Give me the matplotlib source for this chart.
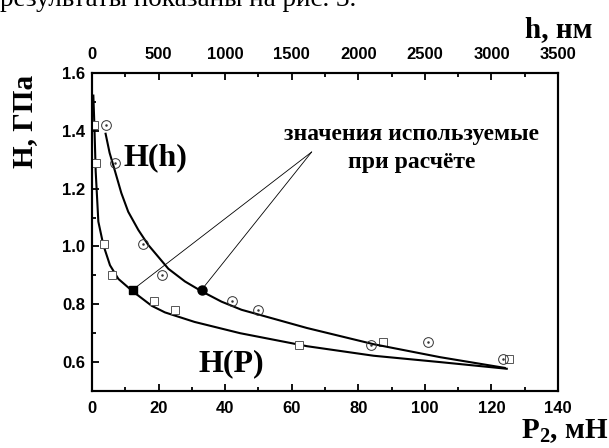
import numpy as np
import matplotlib
matplotlib.use('Agg')
import matplotlib.pyplot as plt
from matplotlib.ticker import MultipleLocator

plt.rcParams['font.family'] = ['Liberation Sans', 'DejaVu Sans']
plt.rcParams['mathtext.fontset'] = 'custom'
plt.rcParams['mathtext.bf'] = 'Liberation Serif:bold'
plt.rcParams['mathtext.rm'] = 'Liberation Serif:bold'

# H(P): load P (mN), hardness H (GPa)
P_pts = [0.7, 1.1, 3.6, 6.1, 18.7, 25.0, 62.3, 87.3, 125.3]
HP_pts = [1.42, 1.29, 1.01, 0.90, 0.81, 0.78, 0.66, 0.67, 0.61]
P_sel, HP_sel = 12.2, 0.85

# H(h): depth h (nm), hardness H (GPa)
h_pts = [102, 172, 380, 528, 1055, 1243, 2097, 2520, 3083]
Hh_pts = [1.42, 1.29, 1.01, 0.90, 0.81, 0.78, 0.66, 0.67, 0.61]
h_sel, Hh_sel = 823, 0.85

# fitted curves
P_fit = [0.4, 0.7, 1.1, 1.9, 3.4, 5.4, 7.9, 12.2, 17.9, 21.9, 30.8, 44.5, 64.6, 84.6, 104.6, 124.6]
HP_fit = [1.522, 1.423, 1.26, 1.086, 1.005, 0.935, 0.888, 0.845, 0.795, 0.772, 0.739, 0.70, 0.655, 0.622, 0.60, 0.577]
h_fit = [102, 132, 173, 220, 272, 348, 423, 573, 698, 823, 973, 1123, 1614, 2114, 2615, 3100]
Hh_fit = [1.39, 1.324, 1.26, 1.185, 1.12, 1.057, 1.005, 0.923, 0.879, 0.845, 0.809, 0.781, 0.718, 0.662, 0.617, 0.58]

fig = plt.figure(figsize=(6.09, 4.48), dpi=100)
ax = fig.add_axes([0.1511, 0.1272, 0.7652, 0.7098])
ax2 = ax.twiny()

ax.plot(P_fit, HP_fit, color='black', lw=1.5, zorder=2)
ax.plot(P_pts, HP_pts, ls='none', marker='s', ms=6, mfc='white', mec='#555555', mew=0.7, zorder=3)
ax.plot([P_sel], [HP_sel], ls='none', marker='s', ms=6, color='black', zorder=4)

ax2.plot(h_fit, Hh_fit, color='black', lw=1.5, zorder=2)
ax2.plot(h_pts, Hh_pts, ls='none', marker='o', ms=7, mfc='none', mec='#333333', mew=0.7, zorder=3)
ax2.plot(h_pts, Hh_pts, ls='none', marker='o', ms=0.8, color='#333333', zorder=3)
ax2.plot([h_sel], [Hh_sel], ls='none', marker='o', ms=6.5, color='black', zorder=4)

# annotation lines
apex = (66, 1.327)
ax.annotate('', xy=(P_sel, HP_sel), xytext=apex,
            arrowprops=dict(arrowstyle='-', lw=0.6, color='black', shrinkA=0, shrinkB=0))
ax2.annotate('', xy=(h_sel, Hh_sel), xytext=apex, textcoords=ax.transData,
             arrowprops=dict(arrowstyle='-', lw=0.6, color='black', shrinkA=0, shrinkB=0))

ax.text(96, 1.339, 'значения используемые\nпри расчёте', ha='center', va='center',
        family='Liberation Serif', weight='bold', fontsize=17, linespacing=1.45)
ax.text(19.2, 1.306, 'H(h)', ha='center', va='center', family='Liberation Serif',
        weight='bold', fontsize=23)
ax.text(41.8, 0.594, 'H(P)', ha='center', va='center', family='Liberation Serif',
        weight='bold', fontsize=23)

ax.set_xlim(0, 140)
ax.set_ylim(0.5, 1.6)
ax2.set_xlim(0, 3500)

ax.xaxis.set_major_locator(MultipleLocator(20))
ax.xaxis.set_minor_locator(MultipleLocator(10))
ax.yaxis.set_major_locator(MultipleLocator(0.2))
ax.yaxis.set_minor_locator(MultipleLocator(0.1))
ax2.xaxis.set_major_locator(MultipleLocator(500))
ax2.xaxis.set_minor_locator(MultipleLocator(250))
ax.yaxis.set_major_formatter(matplotlib.ticker.FormatStrFormatter('%.1f'))

for a in (ax, ax2):
    for s in a.spines.values():
        s.set_linewidth(1.5)
ax.tick_params(which='both', direction='in', width=1.3, labelsize=12, top=False, right=False)
ax.tick_params(which='major', length=5)
ax.tick_params(which='minor', length=3)
ax.tick_params(axis='x', pad=7)
ax.tick_params(axis='y', pad=5)
ax2.tick_params(which='both', direction='in', width=1.3, labelsize=12, pad=8)
ax2.tick_params(which='major', length=5)
ax2.tick_params(which='minor', length=3)
for lab in ax.get_xticklabels() + ax.get_yticklabels() + ax2.get_xticklabels():
    lab.set_fontweight('bold')

fig.text(0.04, 0.728, 'H, ГПа', rotation=90, ha='center', va='center',
         family='Liberation Serif', weight='bold', fontsize=21)
fig.text(0.973, 0.918, 'h, нм', ha='right', va='baseline',
         family='Liberation Serif', weight='bold', fontsize=21)
fig.text(0.999, 0.022, r'$\mathbf{P_2}$, мН', ha='right', va='baseline',
         family='Liberation Serif', weight='bold', fontsize=21)
fig.text(0.0, 0.987, 'результаты показаны на рис. 3.', ha='left', va='baseline',
         family='Liberation Serif', fontsize=19.5)

fig.savefig('out.png', dpi=100)
